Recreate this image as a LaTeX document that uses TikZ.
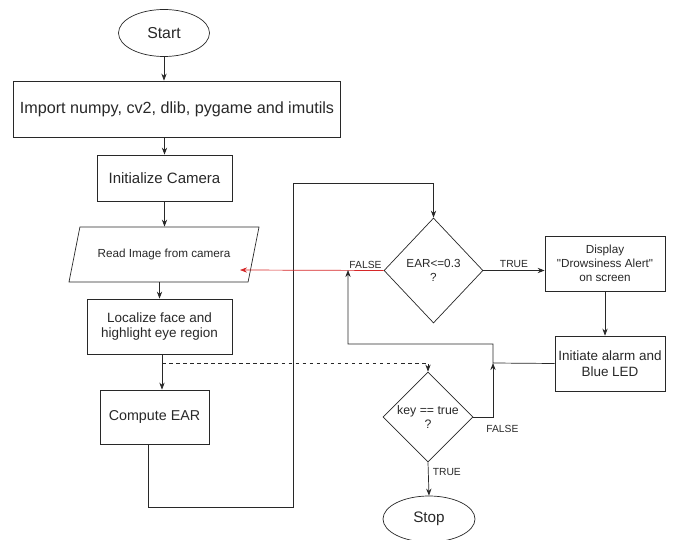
\documentclass[tikz,border=0pt]{standalone}
\usepackage{fontspec}
\setmainfont{Liberation Sans}
\usetikzlibrary{shapes.geometric,arrows.meta}
\definecolor{linie}{RGB}{40,40,40}
\definecolor{rot}{RGB}{214,39,40}
\tikzstyle{box} = [draw=linie,text=linie,line width=0.6pt,inner sep=2pt,align=center]
\tikzstyle{term} = [box,ellipse]
\tikzstyle{decision} = [box,diamond,inner sep=0pt]
\tikzstyle{io} = [box,trapezium,trapezium left angle=55,trapezium right angle=125,trapezium stretches body]
\tikzstyle{pfeil} = [draw=linie,line width=0.6pt,-{Stealth[length=6pt,width=4.5pt]}]
\tikzstyle{marke} = [text=linie,font=\fontsize{8.8}{10}\selectfont,inner sep=1.5pt]

\begin{document}
\begin{tikzpicture}[x=0.03cm,y=-0.03cm]
\useasboundingbox (0,0) rectangle (675,540);
% main column
\node[term,minimum width=2.73cm,minimum height=1.41cm,font=\fontsize{13.5}{16}\selectfont] (start) at (164,33) {Start};
\node[box,minimum width=9.81cm,minimum height=1.68cm,font=\fontsize{13.8}{16}\selectfont] (imports) at (177,109) {Import numpy, cv2, dlib, pygame and imutils};
\node[box,minimum width=4.05cm,minimum height=1.38cm,font=\fontsize{12.8}{15}\selectfont] (initCam) at (164.5,178) {Initialize Camera};
\node[io,minimum width=5.7cm,minimum height=1.65cm,font=\fontsize{10}{12}\selectfont] (readImg) at (164,254.5) {Read Image from camera};
\node[box,minimum width=4.35cm,minimum height=1.65cm,font=\fontsize{11.5}{13.6}\selectfont] (localize) at (159.5,326.5) {Localize face and\\highlight eye region};
\node[box,minimum width=3.27cm,minimum height=1.62cm,font=\fontsize{12.2}{14}\selectfont] (computeEAR) at (154.5,417) {Compute EAR};
% right part
\node[decision,minimum width=2.97cm,minimum height=3.15cm,font=\fontsize{10}{11.5}\selectfont] (earCheck) at (433.5,270.5) {EAR<=0.3\\?};
\node[box,minimum width=3.6cm,minimum height=1.65cm,font=\fontsize{10}{12}\selectfont] (alert) at (605,263.5) {Display\\\textquotedbl Drowsiness Alert\textquotedbl\\on screen};
\node[box,minimum width=3.3cm,minimum height=1.65cm,font=\fontsize{11.5}{13.6}\selectfont] (alarm) at (610,363.5) {Initiate alarm and\\Blue LED};
\node[decision,minimum width=2.7cm,minimum height=2.7cm,font=\fontsize{10.5}{12}\selectfont] (keyCheck) at (428,417) {key == true\\?};
\node[term,minimum width=2.76cm,minimum height=1.38cm,font=\fontsize{13}{15}\selectfont] (stop) at (429,519) {Stop};

\coordinate (dsplit) at (162,363);
\coordinate (loopL) at (148,507);
\coordinate (loopR) at (293,507);
\coordinate (loopT) at (293,183);
\coordinate (fback) at (240,270);
\coordinate (jn) at (493,363);
\coordinate (bk) at (348,344);

\draw[pfeil] (start) -- (start |- imports.north);
\draw[pfeil] (initCam.north |- imports.south) -- (initCam);
\draw[pfeil] (initCam) -- (initCam |- readImg.north);
\draw[pfeil] (localize.north |- readImg.south) -- (localize);
\draw[pfeil] (dsplit |- localize.south) -- (dsplit |- computeEAR.north);
\draw[pfeil,dashed] (dsplit) -| (keyCheck.north);
\draw[pfeil] (loopL |- computeEAR.south) -- (loopL) -- (loopR) -- (loopT) -| (earCheck.north);
\draw[pfeil,draw=rot] (earCheck.west) -- (fback)
  node[marke,anchor=south east,pos=0] (lblFalseA) {FALSE};
\draw[pfeil] (earCheck.east) -- (earCheck.east -| alert.west)
  node[marke,midway,above=1pt] (lblTrueA) {TRUE};
\draw[pfeil] (alert) -- (alert |- alarm.north);
\draw[pfeil] (alarm.west) -- (jn) |- (bk) -- (bk |- fback);
\draw[pfeil] (keyCheck.east) -| (jn);
\node[marke,anchor=north west] (lblFalseB) at ([xshift=0.33cm,yshift=-0.18cm]keyCheck.east) {FALSE};
\draw[pfeil] (keyCheck.south) -- (stop.north)
  node[marke,pos=0.3,right=2pt] (lblTrueB) {TRUE};
\end{tikzpicture}
\end{document}
